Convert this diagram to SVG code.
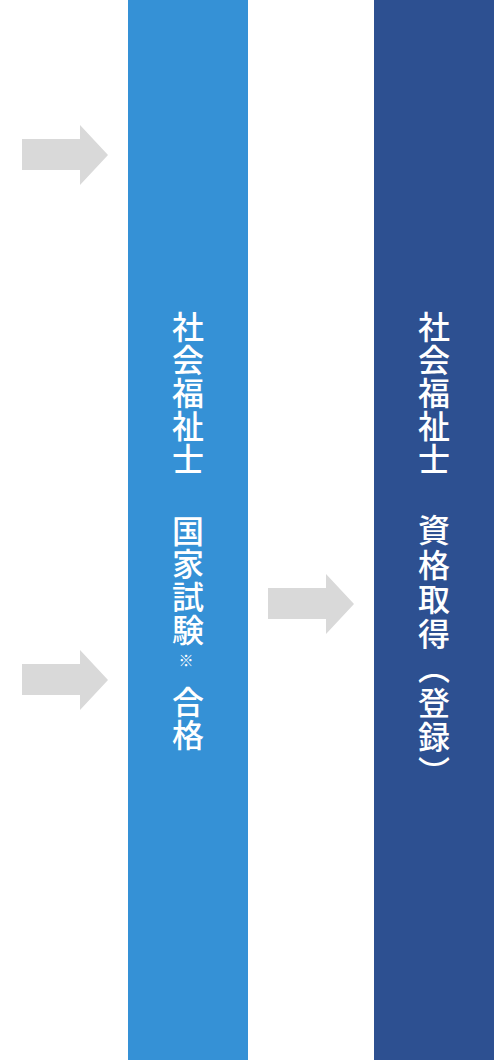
<svg xmlns="http://www.w3.org/2000/svg" width="494" height="1060" viewBox="0 0 494 1060">
<style>
.col-a{fill:#3591d6}
.col-b{fill:#2d5091}
.arrow{fill:#d9d9d9}
.lbl{font-family:"Noto Sans CJK JP","Noto Sans",sans-serif;font-size:32px;font-weight:500;fill:#ffffff;writing-mode:vertical-rl;letter-spacing:1px}
.sm{font-family:"Noto Sans CJK JP","Noto Sans",sans-serif;font-size:15px;fill:#ffffff;writing-mode:vertical-rl}
</style>
<rect width="494" height="1060" fill="#ffffff"/>
<g id="node-exam">
<rect class="col-a" x="128" y="0" width="120" height="1060"/>
<text class="lbl" x="188" y="311">社会福祉士</text>
<text class="lbl" x="188" y="515">国家試験</text>
<text class="sm" x="186" y="653">※</text>
<text class="lbl" x="188" y="686">合格</text>
</g>
<g id="node-register">
<rect class="col-b" x="374" y="0" width="120" height="1060"/>
<text class="lbl" x="434" y="311">社会福祉士</text>
<text class="lbl" x="434" y="514" style="letter-spacing:2.5px">資格取得（登録）</text>
</g>
<g id="connectors">
<polygon class="arrow" points="22,139 80,139 80,125 108,155 80,185 80,170 22,170"/>
<polygon class="arrow" points="22,664 80,664 80,650 108,680 80,710 80,695 22,695"/>
<polygon class="arrow" points="268,588 326,588 326,574 354,604 326,634 326,619 268,619"/>
</g>
</svg>
